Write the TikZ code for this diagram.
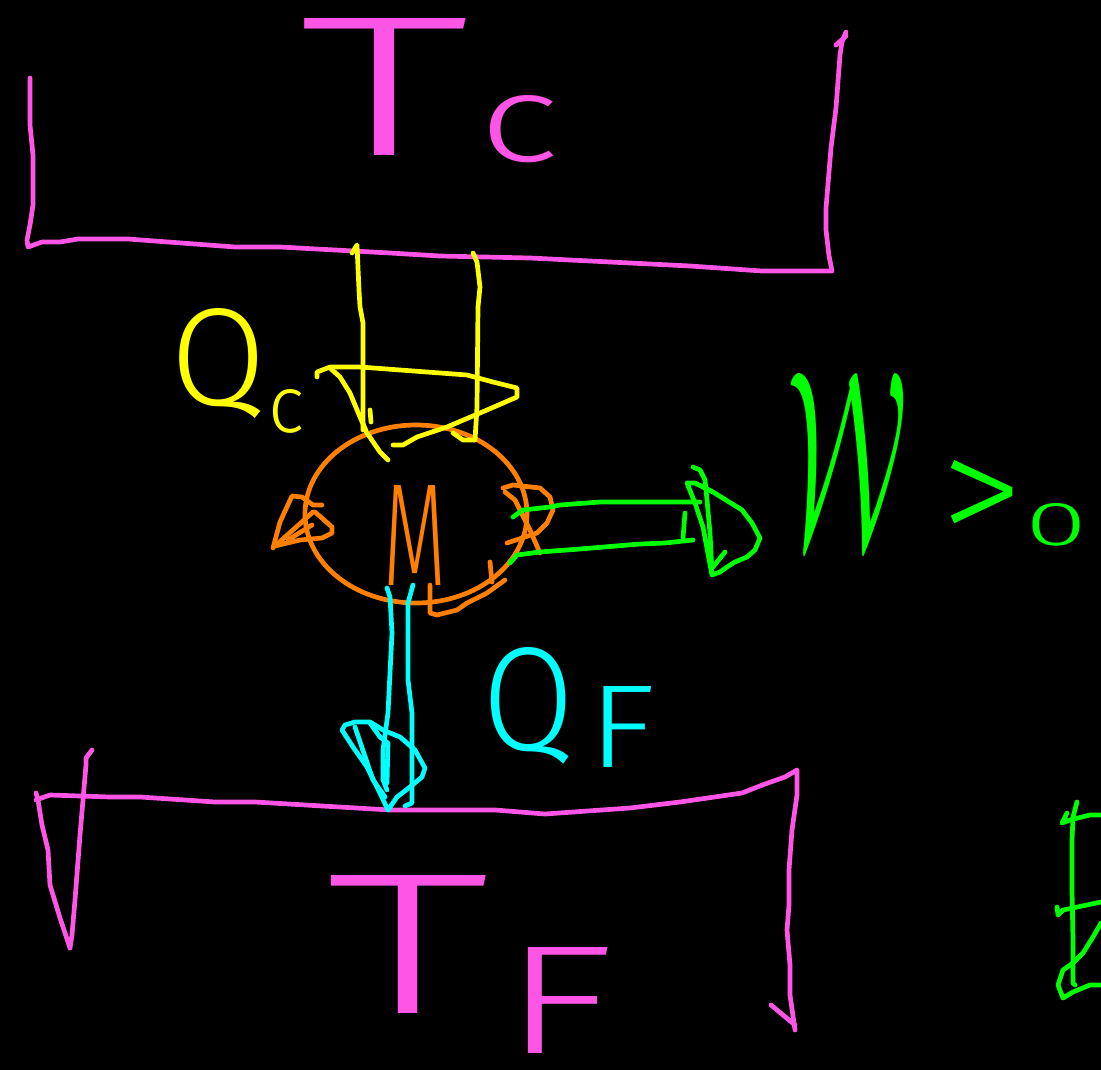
\documentclass[tikz,border=0pt]{standalone}
\usepackage{fontspec}
\setmainfont{Fira Sans}[UprightFont=* Light]
\usepackage{graphicx}
\usetikzlibrary{shapes.geometric}

\definecolor{skmag}{RGB}{255,85,230}
\definecolor{skyel}{RGB}{255,255,0}
\definecolor{skora}{RGB}{255,128,0}
\definecolor{skgrn}{RGB}{0,255,0}
\definecolor{skcya}{RGB}{0,255,255}

% one drawing unit = one pixel of a 1101 x 1070 sheet
\newlength{\skpx}\setlength{\skpx}{0.1mm}
\newcommand{\glyphbox}[3]{\resizebox{#1\skpx}{#2\skpx}{#3}}

\tikzset{
  pen/.style={line width=0.47mm, line cap=round, line join=round},
  mag/.style={pen, draw=skmag},
  yel/.style={pen, draw=skyel},
  ora/.style={pen, draw=skora},
  grn/.style={pen, draw=skgrn},
  cya/.style={pen, draw=skcya},
  lbl/.style={inner sep=0pt, outer sep=0pt, anchor=base west},
}

\begin{document}
\begin{tikzpicture}[x=0.1mm, y=-0.1mm]
\fill[black] (0,0) rectangle (1101,1070);
\useasboundingbox (0,0) rectangle (1101,1070);
\clip (0,0) rectangle (1101,1070);

% ---- hot reservoir (open at the top)
\draw[mag] (30,78) -- (30,125) -- (33,155) -- (33,205) -- (30,225) -- (27,240) -- (28,247)
  -- (42,242) -- (60,242) -- (78,239) -- (128,239) -- (235,247) -- (280,247) -- (390,253)
  -- (440,256) -- (530,258) -- (690,266) -- (762,271) -- (832,271) -- (829,256) -- (826,230)
  -- (826,208) -- (831,148) -- (836,108) -- (840,55) -- (842,42) -- (846,32);
\draw[mag] (836,45) -- (846,36);
\node[lbl, text=skmag] (Tc) at (299,155)
  {\glyphbox{170}{137}{T}\hspace{1.0mm}\raisebox{-0.7mm}{\glyphbox{80}{66}{c}}};

% ---- cold reservoir (open at the bottom)
\draw[mag] (92,750) -- (86,758) -- (86,765) -- (80,835) -- (75,900) -- (72,935) -- (70,948);
\draw[mag] (36,793) -- (38,800) -- (42,825) -- (48,850) -- (50,885) -- (60,918) -- (70,948);
\draw[mag] (36,800) -- (50,795) -- (110,797) -- (140,797) -- (215,802) -- (255,802) -- (390,810)
  -- (495,810) -- (545,814) -- (630,808) -- (680,802) -- (742,793) -- (765,784) -- (785,777)
  -- (797,770) -- (797,795) -- (792,830) -- (789,870) -- (789,905) -- (787,930) -- (790,965)
  -- (790,995) -- (795,1030);
\draw[mag] (771,1005) -- (795,1025);
\node[lbl, text=skmag] (TF) at (326,1013)
  {\glyphbox{163}{138}{T}\hspace{1.3mm}\raisebox{-4.0mm}{\glyphbox{112}{106}{F}}};

% ---- engine
\node[ora, draw=skora, ellipse, minimum width=222\skpx, minimum height=178\skpx] (engine) at (416,514) {};
\node[lbl, text=skora] (M) at (383,585) {\glyphbox{63}{100}{M}};
% cycle marks around the engine
\draw[ora] (273,548) -- (280,522) -- (292,496) -- (302,497) -- (313,505) -- (322,505);
\draw[ora] (315,512) -- (332,527) -- (332,533) -- (322,538) -- (300,540) -- (275,546) -- (313,512);
\draw[ora] (312,525) -- (288,540);
\draw[ora] (503,488) -- (513,485) -- (540,488) -- (550,497) -- (553,510) -- (547,523) -- (537,533) -- (507,543);
\draw[ora] (505,492) -- (515,500) -- (530,530) -- (540,553);
\draw[ora] (430,585) -- (430,613) -- (437,615) -- (457,610) -- (467,603) -- (487,593) -- (505,580);
\draw[ora] (490,562) -- (492,582);

% ---- heat Qc from the hot reservoir
\draw[yel] (352,253) -- (357,245) -- (359,290) -- (360,307) -- (363,323) -- (363,430);
\draw[yel] (473,253) -- (477,262) -- (480,287) -- (478,307) -- (477,407) -- (475,440) -- (463,440) -- (453,433);
\draw[yel] (317,377) -- (317,372) -- (330,367) -- (360,367) -- (467,375) -- (493,382) -- (517,388)
  -- (517,397) -- (487,410) -- (447,427) -- (417,437) -- (403,445) -- (393,445);
\draw[yel] (330,368) -- (340,377) -- (350,393) -- (360,417) -- (367,433) -- (380,452) -- (388,460);
\draw[yel] (370,410) -- (371,422);
\node[lbl, text=skyel] (Qc) at (170,405)
  {\glyphbox{96}{97}{Q}\hspace{0.2mm}\raisebox{-2.7mm}{\glyphbox{36}{43}{c}}};

% ---- heat QF to the cold reservoir
\draw[cya] (387,588) -- (390,597) -- (392,633) -- (388,713) -- (383,750) -- (383,780) -- (387,790);
\draw[cya] (413,585) -- (408,603) -- (408,680) -- (412,713) -- (412,803) -- (405,806);
\draw[cya] (342,730) -- (345,725) -- (355,722) -- (370,722) -- (383,730) -- (400,737) -- (415,750)
  -- (425,768) -- (422,777) -- (410,787) -- (397,797) -- (388,810) -- (377,787) -- (367,767)
  -- (353,747) -- cycle;
\draw[cya] (355,727) -- (373,780) -- (385,797);
\draw[cya] (370,723) -- (380,737) -- (388,743) -- (387,783);
\node[lbl, text=skcya] (QF) at (482,750)
  {\glyphbox{92}{103}{Q}\hspace{1.4mm}\raisebox{-1.8mm}{\glyphbox{67}{81}{F}}};

% ---- work W delivered by the engine
\draw[grn] (513,517) -- (523,510) -- (550,507) -- (560,505) -- (600,502) -- (700,502);
\draw[grn] (510,563) -- (517,555) -- (540,552) -- (580,549) -- (640,544) -- (665,543) -- (693,540);
\draw[grn] (683,538) -- (685,513);
\draw[grn] (693,467) -- (700,470) -- (705,480) -- (707,500) -- (710,533) -- (712,573);
\draw[grn] (687,483) -- (695,483) -- (713,492) -- (742,510) -- (752,523) -- (760,538) -- (755,550)
  -- (747,557) -- (735,562) -- (727,567) -- (720,572) -- (712,575) -- (703,527) -- (695,503) -- cycle;
\draw[grn] (725,552) -- (713,567);
\node[lbl, text=skgrn] (W) at (787,545)
  {\glyphbox{120}{172}{$\mathcal{W}$}\hspace{3.3mm}\glyphbox{83}{85}{>}\hspace{0.2mm}\glyphbox{62}{42}{0}};

% ---- strokes at the right edge
\draw[grn] (1077,802) -- (1073,817) -- (1072,840) -- (1072,890) -- (1073,940) -- (1073,983) -- (1075,985);
\draw[grn] (1067,813) -- (1062,823) -- (1070,820) -- (1090,815) -- (1101,815);
\draw[grn] (1057,907) -- (1058,915) -- (1063,910) -- (1087,905) -- (1101,902);
\draw[grn] (1101,923) -- (1093,937) -- (1083,953) -- (1073,963) -- (1063,970) -- (1058,985)
  -- (1063,998) -- (1073,992) -- (1090,985) -- (1101,985);
\end{tikzpicture}
\end{document}
